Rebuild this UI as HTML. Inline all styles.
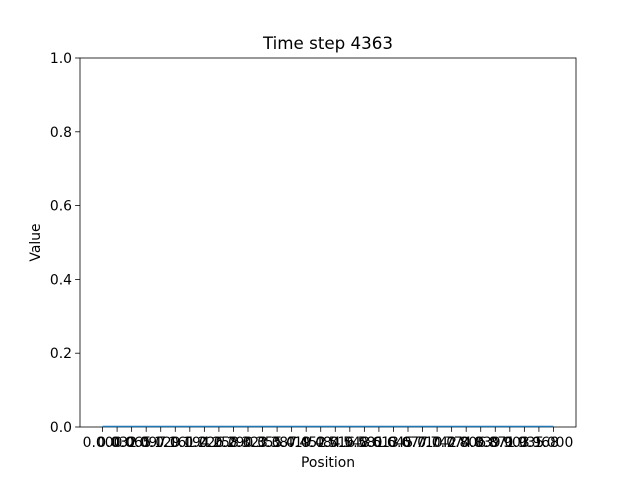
<!DOCTYPE html>
<html><head><meta charset="utf-8"><style>
html,body{margin:0;padding:0;background:#fff;}
svg text{font-family:"DejaVu Sans","Liberation Sans",sans-serif;fill:#000;}
</style></head><body>
<svg id="chart" width="640" height="480" xmlns="http://www.w3.org/2000/svg">
<rect width="640" height="480" fill="#fff"/>
<g id="g"></g>
</svg>
<script>
const categories = [];
for (let i = 0; i < 32; i++) categories.push((i / 31).toFixed(3));
const values = [0,0,0,0,0,0,0,0,0,0,0,0,0,0,0,0,0,0,0,0,0,0,0,0,0,0,0,0,0,0,0,0];
const yTicks = [0.0, 0.2, 0.4, 0.6, 0.8, 1.0];
const yTickLabels = ["0.0","0.2","0.4","0.6","0.8","1.0"];

const L=80,R=576,T=58,B=427;
const n=categories.length;
const xmin=-0.05*(n-1), xmax=(n-1)*1.05;
const xs=i=>L+(i-xmin)/(xmax-xmin)*(R-L);
const ys=v=>B-(v-0)/(1-0)*(B-T);
const g=document.getElementById('g');
const NS='http://www.w3.org/2000/svg';
function mk(tag,attrs,text){const e=document.createElementNS(NS,tag);for(const k in attrs)e.setAttribute(k,attrs[k]);if(text!==undefined)e.textContent=text;g.appendChild(e);return e;}

const frame=mk('rect',{x:L,y:T,width:R-L,height:B-T,fill:'none',stroke:'#000','stroke-width':0.8});



let d='';
values.forEach((v,i)=>{d+=(i?'L':'M')+xs(i)+','+(ys(v)-0.5);});
const line=mk('path',{d:d,fill:'none',stroke:'#1f77b4','stroke-width':1.5});



categories.forEach((c,i)=>{
  const x=xs(i);
  mk('line',{x1:x,x2:x,y1:B,y2:B+4.9,stroke:'#000','stroke-width':0.8});
  const t=mk('text',{x:x,y:B+20,'font-size':13.9,'text-anchor':'middle'},c);
  
  
});
yTicks.forEach((v,i)=>{
  const y=ys(v);
  mk('line',{x1:L-4.9,x2:L,y1:y,y2:y,stroke:'#000','stroke-width':0.8});
  const t=mk('text',{x:L-8,y:y+5,'font-size':13.9,'text-anchor':'end'},yTickLabels[i]);
  
  
});
const title=mk('text',{x:(L+R)/2,y:49,'font-size':16.7,'text-anchor':'middle'},'Time step 4363');


const xl=mk('text',{x:(L+R)/2,y:467,'font-size':13.9,'text-anchor':'middle'},'Position');


const yc=(T+B)/2;
const yl=mk('text',{x:40,y:yc,'font-size':13.9,'text-anchor':'middle',transform:'rotate(-90 40 '+yc+')'},'Value');


</script>
</body></html>
